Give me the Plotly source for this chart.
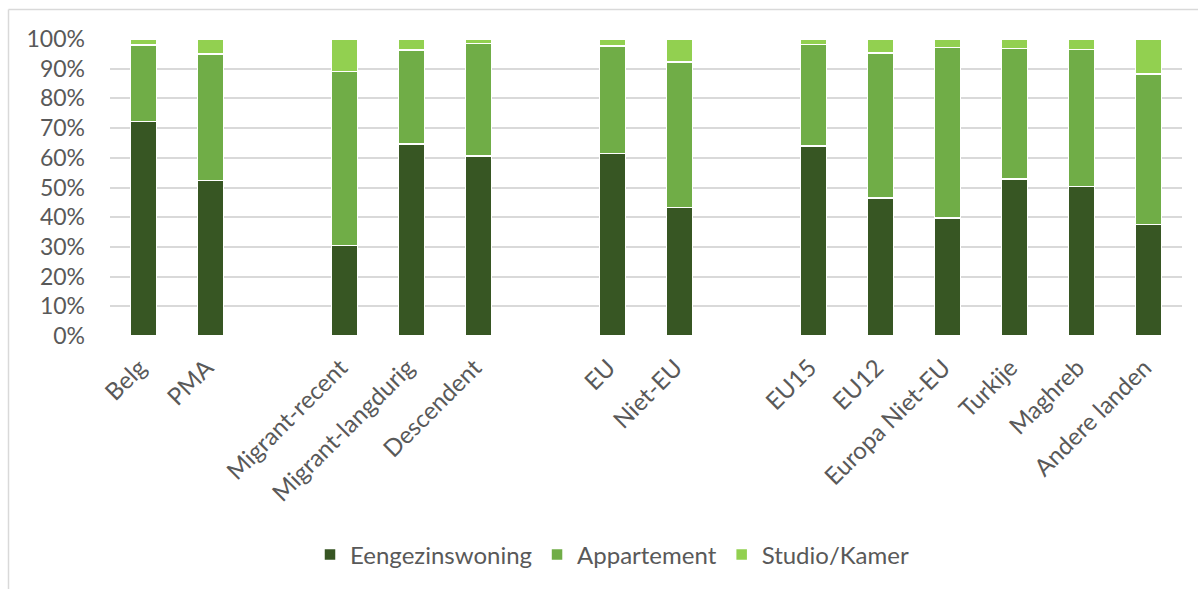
import plotly.graph_objects as go

# Groups of categories; an empty slot separates consecutive groups on the axis
groups = [
    ["Belg", "PMA"],
    ["Migrant-recent", "Migrant-langdurig", "Descendent"],
    ["EU", "Niet-EU"],
    ["EU15", "EU12", "Europa Niet-EU", "Turkije", "Maghreb", "Andere landen"],
]

# Share of each dwelling type (fractions), same order as the categories above
eengezinswoning = [0.722, 0.523, 0.304, 0.647, 0.606, 0.614, 0.432,
                   0.640, 0.465, 0.397, 0.528, 0.503, 0.375]
appartement = [0.258, 0.427, 0.587, 0.316, 0.379, 0.362, 0.491,
               0.341, 0.488, 0.574, 0.440, 0.462, 0.507]
studio_kamer = [0.020, 0.050, 0.109, 0.037, 0.015, 0.024, 0.077,
                0.019, 0.047, 0.029, 0.032, 0.035, 0.118]

series = [
    ("Eengezinswoning", eengezinswoning, "#375623"),
    ("Appartement", appartement, "#70AD47"),
    ("Studio/Kamer", studio_kamer, "#92D050"),
]

# Build the x slots, inserting a blank spacer slot between groups
x_slots = []
slot_index = []
spacer = 0
count = 0
for gi, grp in enumerate(groups):
    if gi > 0:
        spacer += 1
        x_slots.append(" " * spacer)
        slot_index.append(None)
    for name in grp:
        x_slots.append(name)
        slot_index.append(count)
        count += 1


def expand(values):
    return [None if i is None else values[i] for i in slot_index]


text_color = "#595959"
font_family = "Lato, 'Open Sans', sans-serif"

fig = go.Figure()
for name, vals, color in series:
    fig.add_trace(go.Bar(
        name=name,
        x=x_slots,
        y=expand(vals),
        marker=dict(color=color, line=dict(color="white", width=1.5)),
    ))

W, H = 1198, 589
ml, mr, mt, mb = 110, 16, 39, 253
pw = W - ml - mr
ph = H - mt - mb


def px_to_paper_x(px):
    return (px - ml) / pw


def px_to_paper_y(py):
    return (H - mb - py) / ph


fig.update_layout(
    width=W,
    height=H,
    barmode="stack",
    bargap=0.61,
    margin=dict(l=ml, r=mr, t=mt, b=mb),
    paper_bgcolor="white",
    plot_bgcolor="white",
    font=dict(family=font_family, size=22, color=text_color),
    showlegend=True,
    legend=dict(
        orientation="h",
        x=px_to_paper_x(612),
        xanchor="center",
        y=px_to_paper_y(555),
        yanchor="middle",
        font=dict(size=24, color=text_color),
        itemwidth=30,
        traceorder="normal",
    ),
    xaxis=dict(
        categoryorder="array",
        categoryarray=x_slots,
        tickangle=-45,
        showgrid=False,
        showline=False,
        zeroline=False,
        ticks="",
        ticklabelstandoff=12,
        ticklabelshift=-4,
        tickfont=dict(size=24, color=text_color),
    ),
    yaxis=dict(
        range=[0, 1],
        dtick=0.1,
        tickformat=".0%",
        showgrid=True,
        gridcolor="#d9d9d9",
        gridwidth=1.5,
        zeroline=False,
        showline=False,
        ticks="",
        ticklabelstandoff=24,
        tickfont=dict(size=23, color=text_color),
    ),
    shapes=[
        # chart-area frame (top and left edges)
        dict(type="line", xref="paper", yref="paper",
             x0=px_to_paper_x(8.5), x1=px_to_paper_x(W + 10),
             y0=px_to_paper_y(9.5), y1=px_to_paper_y(9.5),
             line=dict(color="#d9d9d9", width=1.5), layer="below"),
        dict(type="line", xref="paper", yref="paper",
             x0=px_to_paper_x(8.5), x1=px_to_paper_x(8.5),
             y0=px_to_paper_y(9.5), y1=px_to_paper_y(H + 10),
             line=dict(color="#d9d9d9", width=1.5), layer="below"),
    ],
)

fig.write_html("out.html")
